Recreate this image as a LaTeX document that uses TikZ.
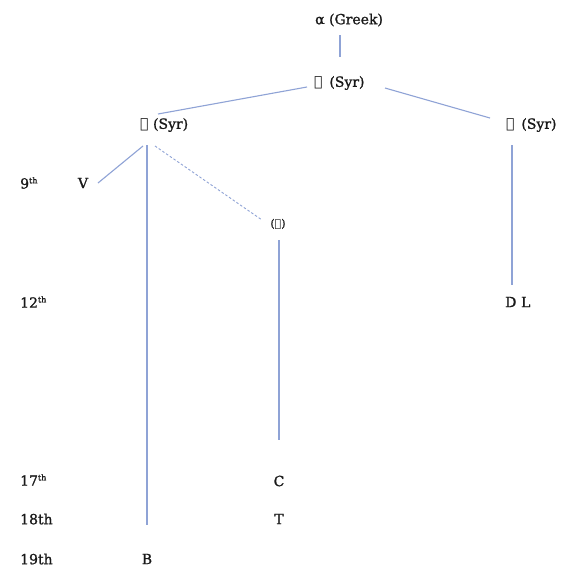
\documentclass[tikz,border=0pt]{standalone}
\usepackage{fontspec}
\setmainfont{DejaVu Serif}[FakeBold=1.2]
\newfontfamily\syr{DejaVu Sans}
\definecolor{ln}{RGB}{143,163,214}
\definecolor{tx}{RGB}{25,25,25}
\newcommand{\supth}{\textsuperscript{\fontsize{8}{8}\selectfont th}}
\begin{document}
\begin{tikzpicture}[x=1pt,y=-1pt,
  every node/.style={font=\fontsize{14}{16}\selectfont, text=tx, inner sep=1pt},
  lbl/.style={anchor=west},
  link/.style={draw=ln, line width=1.1pt},
  dashlink/.style={link, line width=0.9pt, dash pattern=on 2.5pt off 2pt}]
\useasboundingbox (0,0) rectangle (563,571);
\clip (0,0) rectangle (563,571);
\fill[white] (0,0) rectangle (563,571);
% manuscripts
\node[lbl] (greek) at (314,20) {α (Greek)};
\node[lbl] (alaph) at (313,83) {{\syr ܐ}\, (Syr)};
\node[lbl] (beth) at (139,125) {{\syr ܒ} (Syr)};
\node[lbl] (gamal) at (505,125) {{\syr ܓ}\, (Syr)};
\node (V) at (83,183) {V};
\node (dalath) at (278,224) {\fontsize{11}{12}\selectfont ({\syr ܕ})};
\node[lbl] (DL) at (504,302) {D\,\,L};
\node (C) at (279,481) {C};
\node (T) at (279,519) {T};
\node (B) at (147,559) {B};
% centuries
\node[lbl] (c9) at (19,183) {9\supth};
\node[lbl] (c12) at (19,302) {12\supth};
\node[lbl] (c17) at (19,480) {17\supth};
\node[lbl] (c18) at (19,519) {18th};
\node[lbl] (c19) at (19,559) {19th};
% connectors
\draw[link] ([shift={(26,15)}]greek.west) -- ([shift={(27,-26)}]alaph.west);
\draw[link] ([shift={(-6,4)}]alaph.west) -- ([shift={(19,-11)}]beth.west);
\draw[link] ([shift={(72,5)}]alaph.west) -- ([shift={(-15,-7)}]gamal.west);
\draw[link] ([shift={(4,21)}]beth.west) -- ([shift={(15,0)}]V.center);
\draw[link] ([shift={(8,20)}]beth.west) -- ([shift={(0,-34)}]B.center);
\draw[dashlink] ([shift={(16,21)}]beth.west) -- ([shift={(-16,-4)}]dalath.center);
\draw[link] ([shift={(1,16)}]dalath.center) -- ([shift={(0,-41)}]C.center);
\draw[link] ([shift={(7,20)}]gamal.west) -- ([shift={(8,-17)}]DL.west);
\end{tikzpicture}
\end{document}
